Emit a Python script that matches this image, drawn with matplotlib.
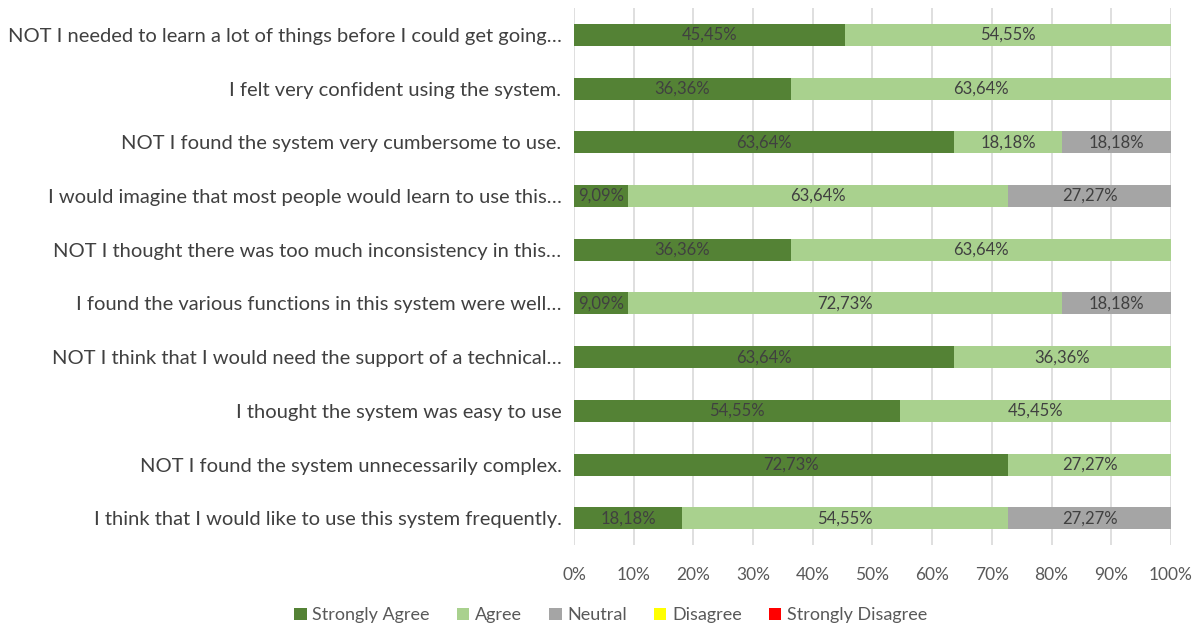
import numpy as np
import matplotlib.pyplot as plt
from matplotlib.patches import Patch

plt.rcParams['font.family'] = ['Lato', 'DejaVu Sans']

# 質問 (上から順)
questions = [
    "NOT I needed to learn a lot of things before I could get going…",
    "I felt very confident using the system.",
    "NOT I found the system very cumbersome to use.",
    "I would imagine that most people would learn to use this…",
    "NOT I thought there was too much inconsistency in this…",
    "I found the various functions in this system were well…",
    "NOT I think that I would need the support of a technical…",
    "I thought the system was easy to use",
    "NOT I found the system unnecessarily complex.",
    "I think that I would like to use this system frequently.",
]

strongly_agree    = [45.45, 36.36, 63.64, 9.09, 36.36, 9.09, 63.64, 54.55, 72.73, 18.18]
agree             = [54.55, 63.64, 18.18, 63.64, 63.64, 72.73, 36.36, 45.45, 27.27, 54.55]
neutral           = [0, 0, 18.18, 27.27, 0, 18.18, 0, 0, 0, 27.27]
disagree          = [0, 0, 0, 0, 0, 0, 0, 0, 0, 0]
strongly_disagree = [0, 0, 0, 0, 0, 0, 0, 0, 0, 0]

series_names = ["Strongly Agree", "Agree", "Neutral", "Disagree", "Strongly Disagree"]
colors = ["#548235", "#A9D18E", "#A5A5A5", "#FFFF00", "#FF0000"]

fig = plt.figure(figsize=(12.02, 6.28), dpi=100)
ax = fig.add_axes([0.4775, 0.132, 0.4967, 0.855])

y = np.arange(len(questions))
left = np.zeros(len(questions))
for name, vals, col in zip(series_names,
                           [strongly_agree, agree, neutral, disagree, strongly_disagree],
                           colors):
    vals = np.array(vals, dtype=float)
    ax.barh(y, vals, left=left, height=0.41, color=col, label=name, zorder=2)
    for yi, (l, v) in enumerate(zip(left, vals)):
        if v > 0:
            ax.text(l + v / 2, yi, f"{v:.2f}%".replace(".", ","),
                    ha="center", va="center", fontsize=12, color="#404040", zorder=3)
    left += vals

ax.set_ylim(len(questions) - 0.5, -0.5)
ax.set_xlim(0, 100)
ax.set_yticks(y)
ax.set_yticklabels(questions, fontsize=14.5, color="#404040")
ax.set_xticks(np.arange(0, 101, 10))
ax.set_xticklabels([f"{t}%" for t in range(0, 101, 10)], fontsize=12.5, color="#595959")
ax.tick_params(axis="both", length=0)
ax.tick_params(axis="y", pad=9)
ax.tick_params(axis="x", pad=16)
ax.grid(axis="x", color="#D9D9D9", linewidth=1.2, zorder=0)
for s in ax.spines.values():
    s.set_visible(False)

handles = [Patch(facecolor=c, label=n) for n, c in zip(series_names, colors)]
fig.legend(handles=handles, loc="center", bbox_to_anchor=(0.508, 0.02),
           ncol=5, frameon=False, fontsize=13, handlelength=0.7, handleheight=0.7,
           handletextpad=0.3, columnspacing=1.5, labelcolor="#595959")

fig.savefig("out.png", dpi=100)
